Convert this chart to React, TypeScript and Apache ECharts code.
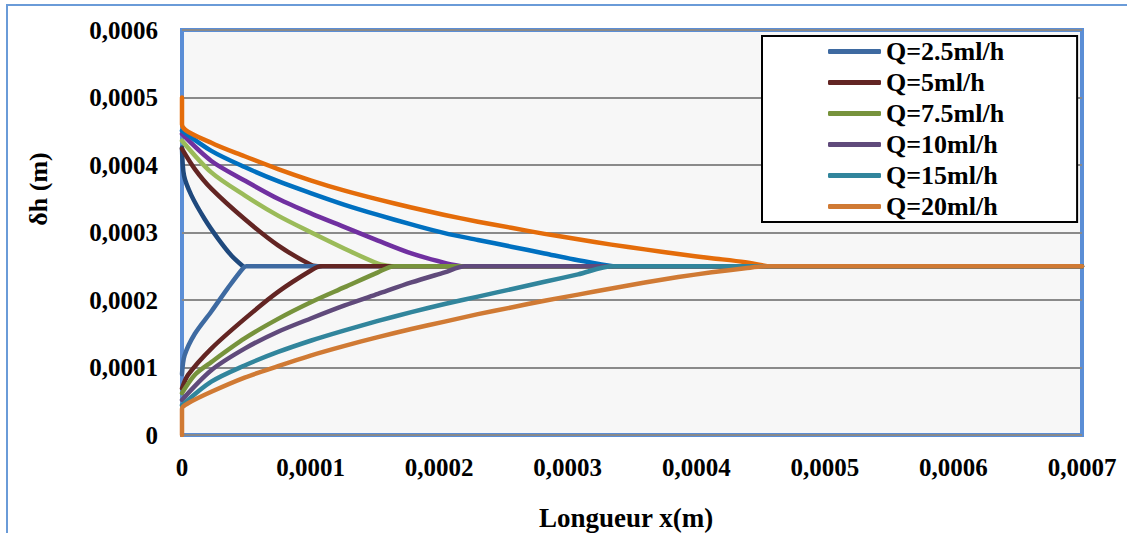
import React, { useEffect, useRef } from "react";
import * as echarts from "echarts";

const X_TICKS = [0, 0.0001, 0.0002, 0.0003, 0.0004, 0.0005, 0.0006, 0.0007];
const Y_TICKS = [0, 0.0001, 0.0002, 0.0003, 0.0004, 0.0005, 0.0006];

const LEGEND_NAMES = ["Q=2.5ml/h", "Q=5ml/h", "Q=7.5ml/h", "Q=10ml/h", "Q=15ml/h", "Q=20ml/h"];
const UPPER_COLORS = ["#1F497D", "#632523", "#9BBB59", "#7030A0", "#0070C0", "#E46C0A"];
const LOWER_COLORS = ["#3E6AA1", "#632523", "#77933C", "#604A7B", "#31859C", "#D07A34"];

// upper branches (x, δh)
const upper25 = [[0, 4.26e-4], [0.016e-4, 3.84e-4], [0.073e-4, 3.55e-4], [0.176e-4, 3.2e-4], [0.28e-4, 2.91e-4], [0.384e-4, 2.66e-4], [0.474e-4, 2.5e-4]];
const upper5 = [[0, 4.24e-4], [0.1e-4, 3.94e-4], [0.228e-4, 3.65e-4], [0.487e-4, 3.2e-4], [0.747e-4, 2.81e-4], [1.006e-4, 2.52e-4], [1.08e-4, 2.5e-4]];
const upper75 = [[0, 4.36e-4], [0.228e-4, 3.89e-4], [0.487e-4, 3.55e-4], [0.747e-4, 3.25e-4], [1.006e-4, 3.0e-4], [1.265e-4, 2.76e-4], [1.524e-4, 2.54e-4], [1.63e-4, 2.5e-4]];
const upper10 = [[0, 4.46e-4], [0.228e-4, 4.06e-4], [0.487e-4, 3.77e-4], [0.747e-4, 3.5e-4], [1.006e-4, 3.28e-4], [1.265e-4, 3.08e-4], [1.524e-4, 2.88e-4], [1.784e-4, 2.69e-4], [2.043e-4, 2.55e-4], [2.17e-4, 2.5e-4]];
const upper15 = [[0, 4.51e-4], [0.228e-4, 4.21e-4], [0.487e-4, 3.97e-4], [0.747e-4, 3.76e-4], [1.006e-4, 3.58e-4], [1.265e-4, 3.41e-4], [1.524e-4, 3.26e-4], [1.784e-4, 3.12e-4], [2.043e-4, 2.99e-4], [2.302e-4, 2.89e-4], [2.561e-4, 2.79e-4], [2.82e-4, 2.69e-4], [3.08e-4, 2.59e-4], [3.35e-4, 2.5e-4]];
const upper20 = [[0, 5.0e-4], [0, 4.6e-4], [0.228e-4, 4.33e-4], [0.487e-4, 4.13e-4], [0.747e-4, 3.94e-4], [1.006e-4, 3.77e-4], [1.265e-4, 3.62e-4], [1.524e-4, 3.49e-4], [1.784e-4, 3.37e-4], [2.043e-4, 3.26e-4], [2.302e-4, 3.16e-4], [2.561e-4, 3.07e-4], [2.82e-4, 2.98e-4], [3.08e-4, 2.9e-4], [3.34e-4, 2.82e-4], [3.6e-4, 2.75e-4], [3.86e-4, 2.68e-4], [4.12e-4, 2.62e-4], [4.38e-4, 2.56e-4], [4.55e-4, 2.5e-4]];

// lower branches (x, δh), continuing flat to the end
const lower25 = [[0, 0.9e-4], [0.02e-4, 1.18e-4], [0.1e-4, 1.5e-4], [0.228e-4, 1.83e-4], [0.358e-4, 2.18e-4], [0.47e-4, 2.46e-4], [0.5e-4, 2.5e-4], [7e-4, 2.5e-4]];
const lower5 = [[0, 0.69e-4], [0.047e-4, 0.89e-4], [0.228e-4, 1.28e-4], [0.487e-4, 1.72e-4], [0.747e-4, 2.12e-4], [1.006e-4, 2.44e-4], [1.08e-4, 2.5e-4], [7e-4, 2.5e-4]];
const lower75 = [[0, 0.62e-4], [0.099e-4, 0.89e-4], [0.228e-4, 1.08e-4], [0.487e-4, 1.43e-4], [0.747e-4, 1.72e-4], [1.006e-4, 1.97e-4], [1.265e-4, 2.19e-4], [1.524e-4, 2.41e-4], [1.65e-4, 2.5e-4], [7e-4, 2.5e-4]];
const lower10 = [[0, 0.52e-4], [0.228e-4, 0.96e-4], [0.487e-4, 1.28e-4], [0.747e-4, 1.53e-4], [1.006e-4, 1.73e-4], [1.265e-4, 1.92e-4], [1.524e-4, 2.09e-4], [1.784e-4, 2.26e-4], [2.043e-4, 2.41e-4], [2.2e-4, 2.5e-4], [7e-4, 2.5e-4]];
const lower15 = [[0, 0.44e-4], [0.228e-4, 0.79e-4], [0.487e-4, 1.03e-4], [0.747e-4, 1.23e-4], [1.006e-4, 1.4e-4], [1.265e-4, 1.55e-4], [1.524e-4, 1.69e-4], [1.784e-4, 1.82e-4], [2.043e-4, 1.94e-4], [2.302e-4, 2.05e-4], [2.561e-4, 2.16e-4], [2.82e-4, 2.27e-4], [3.08e-4, 2.38e-4], [3.35e-4, 2.5e-4], [7e-4, 2.5e-4]];
const lower20 = [[0, 0], [0, 0.39e-4], [0.047e-4, 0.47e-4], [0.228e-4, 0.64e-4], [0.487e-4, 0.85e-4], [0.747e-4, 1.02e-4], [1.006e-4, 1.18e-4], [1.265e-4, 1.32e-4], [1.524e-4, 1.45e-4], [1.784e-4, 1.57e-4], [2.043e-4, 1.68e-4], [2.302e-4, 1.79e-4], [2.561e-4, 1.89e-4], [2.82e-4, 1.99e-4], [3.08e-4, 2.08e-4], [3.34e-4, 2.17e-4], [3.6e-4, 2.26e-4], [3.86e-4, 2.34e-4], [4.12e-4, 2.41e-4], [4.38e-4, 2.47e-4], [4.55e-4, 2.5e-4], [7e-4, 2.5e-4]];

const UPPER = [upper25, upper5, upper75, upper10, upper15, upper20];
const LOWER = [lower25, lower5, lower75, lower10, lower15, lower20];

const FONT = "'Liberation Serif', 'Times New Roman', serif";
const fmt = (v: number) => (v === 0 ? "0" : v.toFixed(4).replace(".", ","));

export default function App() {
  const ref = useRef<HTMLDivElement>(null);
  useEffect(() => {
    if (!ref.current) return;
    const chart = echarts.init(ref.current, undefined, { renderer: "svg" });
    const series: any[] = [];
    UPPER.forEach((d, i) => {
      series.push({
        name: "haut " + LEGEND_NAMES[i],
        type: "line",
        data: d,
        symbol: "none",
        smooth: 0.3,
        lineStyle: { width: 4.5, color: UPPER_COLORS[i], cap: "round", join: "round" },
        itemStyle: { color: UPPER_COLORS[i] },
        z: 2,
      });
    });
    LOWER.forEach((d, i) => {
      series.push({
        name: LEGEND_NAMES[i],
        type: "line",
        data: d,
        symbol: "none",
        smooth: 0.3,
        lineStyle: { width: 4.5, color: LOWER_COLORS[i], cap: "round", join: "round" },
        itemStyle: { color: LOWER_COLORS[i] },
        z: 3,
      });
    });
    chart.setOption({
      animation: false,
      backgroundColor: "#ffffff",
      grid: {
        left: 182,
        right: 45,
        top: 30,
        bottom: 98,
        show: true,
        backgroundColor: "#F7F7F7",
        borderColor: "#5B8ED6",
        borderWidth: 4,
      },
      xAxis: {
        type: "value",
        min: X_TICKS[0],
        max: X_TICKS[X_TICKS.length - 1],
        interval: 0.0001,
        axisLine: { show: false },
        axisTick: { show: false },
        splitLine: { show: false },
        axisLabel: {
          margin: 20,
          formatter: fmt,
          color: "#000",
          fontSize: 25,
          fontWeight: "bold",
          fontFamily: FONT,
        },
      },
      yAxis: {
        type: "value",
        min: Y_TICKS[0],
        max: Y_TICKS[Y_TICKS.length - 1],
        interval: 0.0001,
        axisLine: { show: false },
        axisTick: { show: false },
        splitLine: { show: true, lineStyle: { color: "#8A8A8A", width: 2 } },
        axisLabel: {
          margin: 24,
          formatter: fmt,
          color: "#000",
          fontSize: 25,
          fontWeight: "bold",
          fontFamily: FONT,
        },
      },
      legend: {
        data: LEGEND_NAMES,
        orient: "vertical",
        left: 762,
        top: 36,
        backgroundColor: "#ffffff",
        borderColor: "#000000",
        borderWidth: 2,
        borderRadius: 0,
        padding: [0, 73, 0, 66],
        itemGap: 0,
        itemWidth: 53,
        itemHeight: 5,
        icon: "roundRect",
        textStyle: {
          color: "#000",
          fontSize: 26,
          fontWeight: "bold",
          fontFamily: FONT,
          lineHeight: 31,
        },
      },
      graphic: [
        {
          type: "rect",
          shape: { x: 7, y: 5, width: 1300, height: 700 },
          style: { fill: "none", stroke: "#6A9BD8", lineWidth: 2 },
          silent: true,
        },
        {
          type: "text",
          x: 38,
          y: 189,
          rotation: Math.PI / 2,
          style: {
            text: "δh (m)",
            fill: "#000",
            font: `bold 26px ${FONT}`,
            align: "center",
            verticalAlign: "middle",
          },
        },
        {
          type: "text",
          x: 626,
          y: 518,
          style: {
            text: "Longueur x(m)",
            fill: "#000",
            font: `bold 27px ${FONT}`,
            align: "center",
            verticalAlign: "middle",
          },
        },
      ],
      series,
    });
    return () => chart.dispose();
  }, []);
  return (
    <div
      ref={ref}
      style={{ position: "fixed", left: 0, top: 0, width: 1127, height: 533 }}
    />
  );
}
